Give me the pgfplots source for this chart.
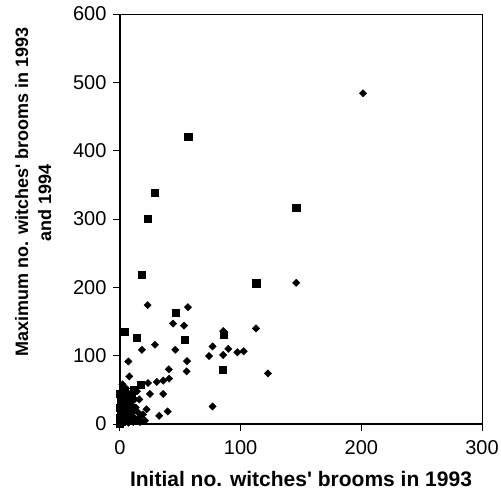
\documentclass[border=0pt]{standalone}
\usepackage{fontspec}
\setmainfont{Liberation Sans}[Ligatures=TeXOff]
\usepackage{pgfplots}
\pgfplotsset{compat=1.18}

\begin{document}
\begin{tikzpicture}
  \begin{axis}[
    scale only axis,
    width=362pt, height=410pt,
    xmin=0, xmax=300, ymin=0, ymax=600,
    xtick={0,100,200,300},
    ytick={0,100,200,300,400,500,600},
    tick pos=left,
    tick align=outside,
    major tick length=7pt,
    tick style={black, line width=1pt},
    axis line style={black, line width=1pt},
    /pgf/number format/assume math mode=true,
    ticklabel style={font=\fontsize{20}{24}\selectfont},
    yticklabel style={xshift=-3pt},
    xticklabel style={yshift=-6pt},
    xlabel={Initial no. witches' brooms in 1993},
    xlabel style={font=\fontsize{21}{24}\selectfont\bfseries,
      at={(axis description cs:0.5,0)}, anchor=base, yshift=-62pt},
    ylabel={Maximum no. witches' brooms in 1993\\and 1994\hspace*{22pt}},
    ylabel style={font=\fontsize{18}{23}\selectfont\bfseries, align=center,
      at={(axis description cs:-0.19,0.566)}, anchor=base, rotate=0},
    clip=false,
  ]
    % squares
    \addplot[only marks, mark=square*, mark size=3.6pt, black] coordinates {
      (56.5,420) (29,339) (22.9,300) (18.2,219) (146,316) (112.8,206)
      (46,163) (3.9,135) (13.8,126) (53.8,123) (86,131) (85,79)
      (17,58) (11.8,50)
      (0,0) (1,3) (3,6) (0,9) (2,12) (5,14) (1,17) (4,20) (7,22)
      (0,24) (2,27) (5,30) (8,33) (1,35) (3,38) (6,41) (0,44) (2,47)
      (4,49) (9,24) (10,40) (6,8) (8,14)
    };
    % diamonds
    \addplot[only marks, mark=square*, mark size=2.6pt, black,
      mark options={rotate=45}] coordinates {
      (201.4,484) (146,206.6) (112.7,140) (122.6,74) (85.5,136)
      (85.5,101) (89.8,110) (97.3,105) (102.5,106.5) (73.8,99.5)
      (76.7,113.5) (76.7,25.7) (56.3,171) (53,144) (44,147) (22.9,174)
      (29,116) (18.2,108.6) (45.8,108.6) (6.9,91.5) (55.5,92) (40.5,80)
      (55.2,77) (7.7,69.6) (40.7,66.4) (35.8,63.5) (30.5,61.5) (23.2,60)
      (24.8,44) (35.8,44) (16,36) (22,21.5) (39.5,18.4) (32.5,12)
      (19,14) (13,6) (20.7,5) (16.6,3)
      (1,2) (4,4) (7,2) (9,6) (11,11) (6,18) (10,16) (13,24) (3,28)
      (8,32) (12,36) (5,52) (9,45) (14,48) (2,58) (11,3) (16,9) (15,17)
    };
    \draw[black, line width=2pt] (rel axis cs:0,1) -- (rel axis cs:0,0)
      -- (rel axis cs:1,0);
  \end{axis}
  \pgfresetboundingbox
  \path (-120pt,-67pt) rectangle (381pt,424pt);
\end{tikzpicture}
\end{document}
